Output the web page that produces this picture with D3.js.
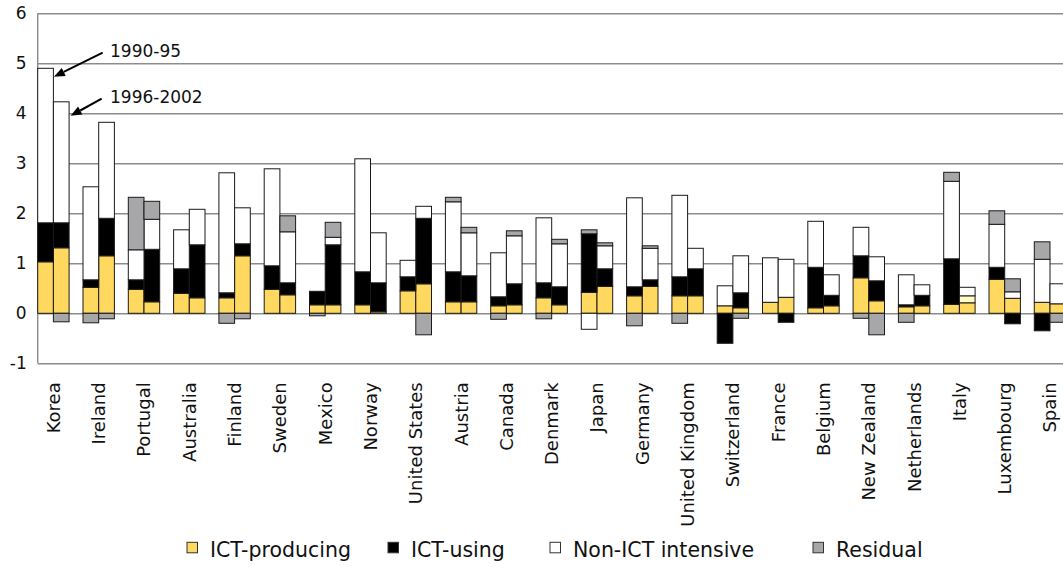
<!DOCTYPE html>
<html><head><meta charset="utf-8">
<script src="https://cdn.jsdelivr.net/npm/d3@7"></script>
<style>body{margin:0;background:#fff;overflow:hidden;} svg{display:block;font-family:"DejaVu Sans",sans-serif;}</style>
</head><body><svg id="c" width="1063" height="567"></svg>
<script>
const countries = ["Korea","Ireland","Portugal","Australia","Finland","Sweden","Mexico","Norway","United States","Austria","Canada","Denmark","Japan","Germany","United Kingdom","Switzerland","France","Belgium","New Zealand","Netherlands","Italy","Luxembourg","Spain"];
const periods = ["1990-95","1996-2002"];
const seriesNames = ["ICT-producing","ICT-using","Non-ICT intensive","Residual"];
const seriesColors = ["#FFD85F","#000000","#FFFFFF","#A7A7A9"];
const yTicks = [-1,0,1,2,3,4,5,6];

// 1990-95
const ictProducing9095 = [1.03,0.52,0.48,0.40,0.31,0.48,0.17,0.17,0.45,0.23,0.15,0.31,0.42,0.35,0.35,0.15,0.22,0.11,0.71,0.13,0.18,0.68,0.22];
const ictUsing9095     = [0.78,0.15,0.19,0.49,0.10,0.47,0.27,0.66,0.28,0.60,0.18,0.30,1.17,0.18,0.38,-0.60,0,0.81,0.44,0.04,0.91,0.24,-0.35];
const nonIct9095       = [3.09,1.86,0.60,0.78,2.40,1.94,0,2.26,0.33,1.40,0.88,1.30,-0.32,1.78,1.63,0.40,0.89,0.92,0.57,0.60,1.55,0.86,0.86];
const residual9095     = [0,-0.19,1.05,0,-0.20,0,-0.05,0,0,0.09,-0.12,-0.11,0.08,-0.25,-0.20,0,0,0,-0.10,-0.18,0.18,0.27,0.35];
// 1996-2002
const ictProducing9602 = [1.31,1.15,0.23,0.31,1.15,0.37,0.17,0.03,0.59,0.23,0.17,0.17,0.54,0.54,0.35,0.11,0.32,0.15,0.25,0.15,0.21,0.30,0.19];
const ictUsing9602     = [0.50,0.75,1.05,1.06,0.24,0.24,1.20,0.58,1.31,0.52,0.42,0.36,0.35,0.13,0.54,0.30,-0.18,0.21,0.40,0.21,0.14,-0.21,0];
const nonIct9602       = [2.42,1.92,0.60,0.71,0.72,1.02,0.15,1.00,0.24,0.86,0.96,0.86,0.46,0.63,0.41,0.74,0.76,0.41,0.48,0.21,0.17,0.13,0.40];
const residual9602     = [-0.17,-0.11,0.36,0,-0.11,0.32,0.30,0,-0.43,0.11,0.10,0.09,0.06,0.05,0,-0.10,0,0,-0.43,0,0,0.26,-0.18];

// one cell drawn in a pale tint in the original
const paleCells = [["Italy","1996-2002","ICT-using"]];

const svg = d3.select("#c");
const W = 1063;
const mLeft = 37.7, mTop = 13.3, mBottom = 363.3;
const step = 45.3, pad = 0.307;

const y = d3.scaleLinear().domain([-1, 6]).range([mBottom, mTop]);
const x = d3.scaleBand().domain(countries)
  .range([mLeft, mLeft + step * (countries.length - pad)])
  .paddingInner(pad).paddingOuter(0);
const xi = d3.scaleBand().domain(periods).range([0, x.bandwidth()]);
const color = d3.scaleOrdinal().domain(seriesNames).range(seriesColors);

// rows
const src = {
  "1990-95": [ictProducing9095, ictUsing9095, nonIct9095, residual9095],
  "1996-2002": [ictProducing9602, ictUsing9602, nonIct9602, residual9602]
};
const rows = [];
countries.forEach((c, i) => periods.forEach(p => {
  const r = {country: c, period: p};
  seriesNames.forEach((s, k) => r[s] = src[p][k][i]);
  rows.push(r);
}));
const stacked = d3.stack().keys(seriesNames).offset(d3.stackOffsetDiverging)(rows);

// grid + y axis
const yAxis = d3.axisLeft(y).tickValues(yTicks).tickSize(-(W - mLeft + 5)).tickPadding(11).tickFormat(d => String(d));
const ga = svg.append("g").attr("transform", `translate(${mLeft},0)`).call(yAxis);
ga.select(".domain").remove();
ga.selectAll(".tick line").attr("stroke", "#8c8c8c").attr("stroke-width", 1.4);
ga.selectAll(".tick text").attr("font-size", 17).attr("fill", "#111").attr("font-family", "DejaVu Sans");
svg.append("line").attr("x1", mLeft).attr("x2", mLeft).attr("y1", y(6)).attr("y2", y(-1))
  .attr("stroke", "#8c8c8c").attr("stroke-width", 1.4);

// bars
const isPale = (d, key) => paleCells.some(pc => pc[0] === d.data.country && pc[1] === d.data.period && pc[2] === key);
svg.append("g").selectAll("g").data(stacked).join("g")
  .each(function(layer) {
    d3.select(this).selectAll("rect").data(layer.filter(d => d[1] !== d[0])).join("rect")
      .attr("x", d => x(d.data.country) + xi(d.data.period))
      .attr("width", xi.bandwidth())
      .attr("y", d => y(Math.max(d[0], d[1])))
      .attr("height", d => Math.abs(y(d[0]) - y(d[1])))
      .attr("fill", d => isPale(d, layer.key) ? "#FFFBC4" : color(layer.key))
      .attr("stroke", "#1a1a1a").attr("stroke-width", 1);
  });

// x axis labels
const xa = svg.append("g").attr("transform", `translate(0,${mBottom})`)
  .call(d3.axisBottom(x).tickSize(0).tickPadding(0));
xa.select(".domain").remove();
xa.selectAll(".tick text")
  .attr("font-size", 18).attr("fill", "#111").attr("font-family", "DejaVu Sans")
  .attr("text-anchor", "end")
  .attr("transform", "rotate(-90)")
  .attr("x", -19).attr("y", 0).attr("dy", "0.36em");

// annotations
const kx = x("Korea");
const bw = xi.bandwidth();
const tot = p => d3.sum(src[p], arr => Math.max(0, arr[0]));
function arrow(x1, y1, x2, y2) {
  const a = Math.atan2(y2 - y1, x2 - x1), L = 11, Wd = 4.5;
  const bx = x2 - L * Math.cos(a), by = y2 - L * Math.sin(a);
  svg.append("line").attr("x1", x1).attr("y1", y1).attr("x2", bx).attr("y2", by)
    .attr("stroke", "#000").attr("stroke-width", 2);
  svg.append("polygon").attr("points", [
    [x2, y2],
    [bx + Wd * Math.sin(a), by - Wd * Math.cos(a)],
    [bx - Wd * Math.sin(a), by + Wd * Math.cos(a)]
  ].map(p => p.join(",")).join(" ")).attr("fill", "#000");
}
arrow(102.7, 52.7, kx + bw + 0.5, y(tot("1990-95")) + 8.5);
arrow(101.7, 98.7, kx + 2 * bw + 1.5, y(tot("1996-2002")) + 14);
svg.append("text").attr("x", 110).attr("y", 57.3).attr("font-size", 17).attr("fill", "#111").text(periods[0]);
svg.append("text").attr("x", 110).attr("y", 103.3).attr("font-size", 17).attr("fill", "#111").text(periods[1]);

// legend
const legX = [187, 388, 550, 813];
const lg = svg.append("g");
seriesNames.forEach((s, i) => {
  lg.append("rect").attr("x", legX[i]).attr("y", 542.3).attr("width", 10.5).attr("height", 10.5)
    .attr("fill", color(s)).attr("stroke", "#333").attr("stroke-width", 1);
  lg.append("text").attr("x", legX[i] + 23).attr("y", 556.7).attr("font-size", 20.5).attr("fill", "#111").text(s);
});
</script></body></html>
